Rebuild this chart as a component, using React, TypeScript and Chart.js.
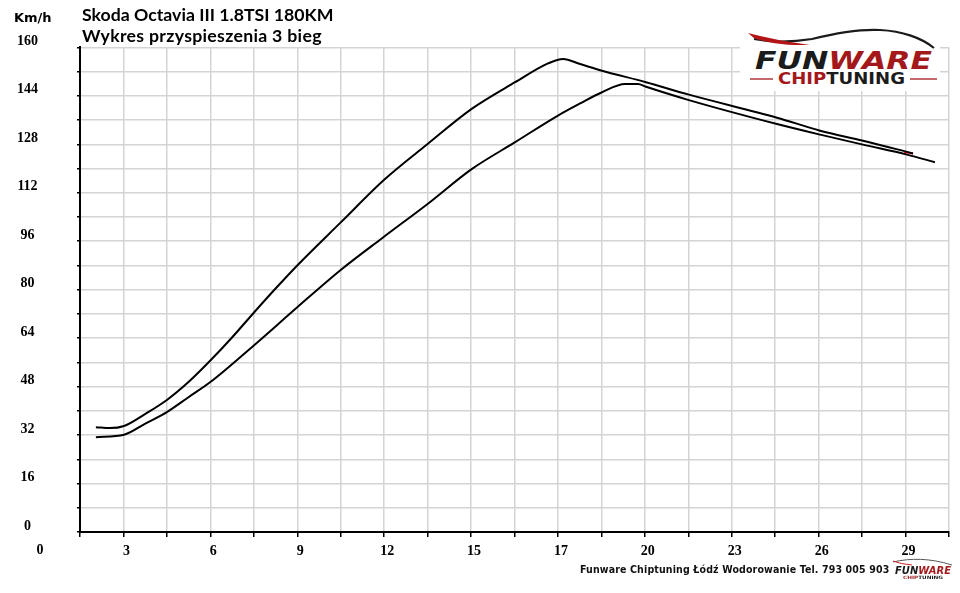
import React, { useEffect, useRef } from 'react';
import { Chart, registerables } from 'chart.js';

Chart.register(...registerables);

// czas [s] i predkosc [km/h]
const tunedTime = [2.03, 2.5, 2.97, 3.68, 4.4, 5.12, 5.85, 6.58, 7.3, 8.02, 8.75, 10.21, 11.65, 13.1, 14.57, 16.02, 17.12, 17.62, 18.19, 18.92, 20.39, 21.82, 24.76, 26.2, 27.63, 29.3];
const tunedSpeed = [34.6, 34.3, 35.0, 39.0, 43.6, 49.5, 56.6, 64.3, 72.4, 80.3, 88.0, 102.3, 116.3, 128.1, 139.7, 148.5, 154.7, 156.2, 154.5, 152.3, 148.5, 144.4, 136.8, 132.5, 129.2, 125.0];
const stockTime = [2.03, 2.97, 3.68, 4.4, 5.12, 5.85, 7.3, 8.75, 10.21, 11.58, 13.1, 14.57, 16.02, 17.45, 18.19, 18.92, 19.69, 20.12, 20.39, 21.82, 24.76, 26.2, 27.63, 29.1, 30.03];
const stockSpeed = [31.3, 32.1, 35.8, 39.6, 44.5, 49.5, 61.6, 74.2, 86.6, 97.0, 108.3, 119.8, 128.7, 137.5, 141.5, 145.2, 147.9, 147.9, 147.0, 142.6, 134.7, 131.2, 127.9, 124.6, 122.1];
const endMarkTime = [29.0, 29.3];
const endMarkSpeed = [125.4, 125.0];

const xGridTimes = [1.5, 2.95, 4.4, 5.85, 7.3, 8.75, 10.2, 11.65, 13.1, 14.55, 16, 17.45, 18.9, 20.35, 21.8, 23.25, 24.7, 26.15, 27.6, 29.05, 30.5];
const xTickLabels = ['', '3', '', '6', '', '9', '', '12', '', '15', '', '17', '', '20', '', '23', '', '26', '', '29', ''];
const ySpeedLabels = [0, 16, 32, 48, 64, 80, 96, 112, 128, 144, 160];

const toPoints = (xs: number[], ys: number[]) => xs.map((x, i) => ({ x, y: ys[i] }));

const tickFont = { family: 'Liberation Serif', size: 14, weight: 'bold' as const };
const RED = '#a3191b';
const DARK = '#1b1b1b';

const App: React.FC = () => {
    const chartRef = useRef<HTMLCanvasElement>(null);
    const chartInstance = useRef<Chart | null>(null);

    useEffect(() => {
        document.body.style.margin = '0';
        if (!chartRef.current) return;
        const ctx = chartRef.current.getContext('2d');
        if (!ctx) return;
        if (chartInstance.current) chartInstance.current.destroy();

        const lineStyle = {
            borderColor: '#000',
            borderWidth: 2,
            pointRadius: 0,
            fill: false,
            cubicInterpolationMode: 'monotone' as const,
        };

        chartInstance.current = new Chart(ctx, {
            type: 'line',
            data: {
                datasets: [
                    { label: 'Seria', data: toPoints(stockTime, stockSpeed), ...lineStyle },
                    { label: 'Po tuningu', data: toPoints(tunedTime, tunedSpeed), ...lineStyle },
                    { label: 'Koniec', data: toPoints(endMarkTime, endMarkSpeed), ...lineStyle, borderColor: '#ff1a1a' },
                ],
            },
            options: {
                animation: false,
                responsive: true,
                maintainAspectRatio: false,
                layout: { padding: { top: 47, right: 11, left: 0, bottom: 0 } },
                plugins: { legend: { display: false }, tooltip: { enabled: false } },
                scales: {
                    x: {
                        type: 'linear',
                        min: 1.5,
                        max: 30.5,
                        afterBuildTicks: (scale) => {
                            scale.ticks = xGridTimes.map((value) => ({ value }));
                        },
                        afterFit: (scale) => {
                            scale.height = 61;
                        },
                        grid: { color: '#d4d4d4', lineWidth: 1.5, tickLength: 5, tickColor: '#000', tickWidth: 1.5 },
                        border: { color: '#000', width: 2 },
                        ticks: {
                            autoSkip: false,
                            maxRotation: 0,
                            padding: 6,
                            labelOffset: 3,
                            color: '#000',
                            font: tickFont,
                            callback: (_v, i) => xTickLabels[i] ?? '',
                        },
                    },
                    y: {
                        min: 0,
                        max: 160,
                        afterFit: (scale) => {
                            scale.width = 80;
                        },
                        grid: { color: '#d4d4d4', lineWidth: 1.5, tickLength: 3, tickColor: '#000', tickWidth: 1.5 },
                        border: { color: '#000', width: 2 },
                        ticks: {
                            stepSize: 8,
                            autoSkip: false,
                            crossAlign: 'center',
                            padding: 39,
                            labelOffset: -6,
                            color: '#000',
                            font: tickFont,
                            callback: (v) => (ySpeedLabels.includes(Number(v)) ? String(v) : ''),
                        },
                    },
                },
            },
        });

        return () => {
            if (chartInstance.current) {
                chartInstance.current.destroy();
                chartInstance.current = null;
            }
        };
    }, []);

    const abs = (style: React.CSSProperties): React.CSSProperties => ({ position: 'absolute', whiteSpace: 'nowrap', ...style });

    return (
        <div style={{ position: 'relative', width: 960, height: 593, background: '#fff', overflow: 'hidden' }}>
            <canvas ref={chartRef} style={{ position: 'absolute', left: 0, top: 0 }}></canvas>

            <div style={abs({ left: 14, top: 12, font: "bold 13px 'DejaVu Sans'", lineHeight: '12px', color: '#000' })}>Km/h</div>
            <div style={abs({ left: 82, top: 4, font: "bold 17.7px Lato", lineHeight: 1.2, color: '#000' })}>Skoda Octavia III 1.8TSI 180KM</div>
            <div style={abs({ left: 82, top: 25, font: "bold 17.7px Lato", lineHeight: 1.2, letterSpacing: '0.3px', color: '#000' })}>Wykres przyspieszenia 3 bieg</div>
            <div style={abs({ left: 30, top: 543, width: 20, textAlign: 'center', font: "bold 14px 'Liberation Serif'", lineHeight: '14px', color: '#000' })}>0</div>
            <div style={abs({ left: 580, top: 564, font: "bold 10.5px 'DejaVu Sans Condensed', 'DejaVu Sans'", lineHeight: '10px', letterSpacing: '0.15px', color: '#111' })}>
                Funware Chiptuning Łódź Wodorowanie Tel. 793 005 903
            </div>

            {/* logo w prawym gornym rogu */}
            <svg style={{ position: 'absolute', left: 740, top: 22 }} width={202} height={70} viewBox="0 0 202 70">
                <rect x={0} y={0} width={200} height={69} fill="#fff" />
                <path d="M 14 17 Q 40 22 72 17 C 96 11 120 7 140 8 C 162 9 182 16 194 26" stroke={DARK} strokeWidth={2.2} fill="none" />
                <path d="M 8 11 Q 34 18 70 23 Q 34 24 14 16 Z" fill="#b31517" />
                <text x={15} y={47} textLength={177} lengthAdjust="spacingAndGlyphs" fontFamily="DejaVu Sans" fontWeight="bold" fontStyle="italic" fontSize={24}>
                    <tspan fill={DARK}>FUN</tspan>
                    <tspan fill={RED}>WARE</tspan>
                </text>
                <line x1={10} y1={57} x2={33} y2={57} stroke={RED} strokeWidth={1.3} />
                <line x1={170} y1={57} x2={197} y2={57} stroke={RED} strokeWidth={1.3} />
                <text x={38} y={62} textLength={127} lengthAdjust="spacingAndGlyphs" fontFamily="DejaVu Sans" fontWeight="bold" fontSize={15}>
                    <tspan fill={RED}>CHIP</tspan>
                    <tspan fill={DARK}>TUNING</tspan>
                </text>
            </svg>

            {/* maly logotyp w stopce */}
            <svg style={{ position: 'absolute', left: 890, top: 556 }} width={66} height={26} viewBox="0 0 66 26">
                <path d="M 3 6 C 20 2 40 2 62 9" stroke="#555" strokeWidth={1} fill="none" />
                <path d="M 3 5 Q 10 8 22 9" stroke="#c22" strokeWidth={1} fill="none" />
                <text x={5} y={18} textLength={56} lengthAdjust="spacingAndGlyphs" fontFamily="DejaVu Sans" fontWeight="bold" fontStyle="italic" fontSize={10}>
                    <tspan fill={DARK}>FUN</tspan>
                    <tspan fill={RED}>WARE</tspan>
                </text>
                <text x={13} y={22.5} textLength={40} lengthAdjust="spacingAndGlyphs" fontFamily="DejaVu Sans" fontWeight="bold" fontSize={4.5}>
                    <tspan fill={RED}>CHIP</tspan>
                    <tspan fill={DARK}>TUNING</tspan>
                </text>
            </svg>
        </div>
    );
};

export default App;
